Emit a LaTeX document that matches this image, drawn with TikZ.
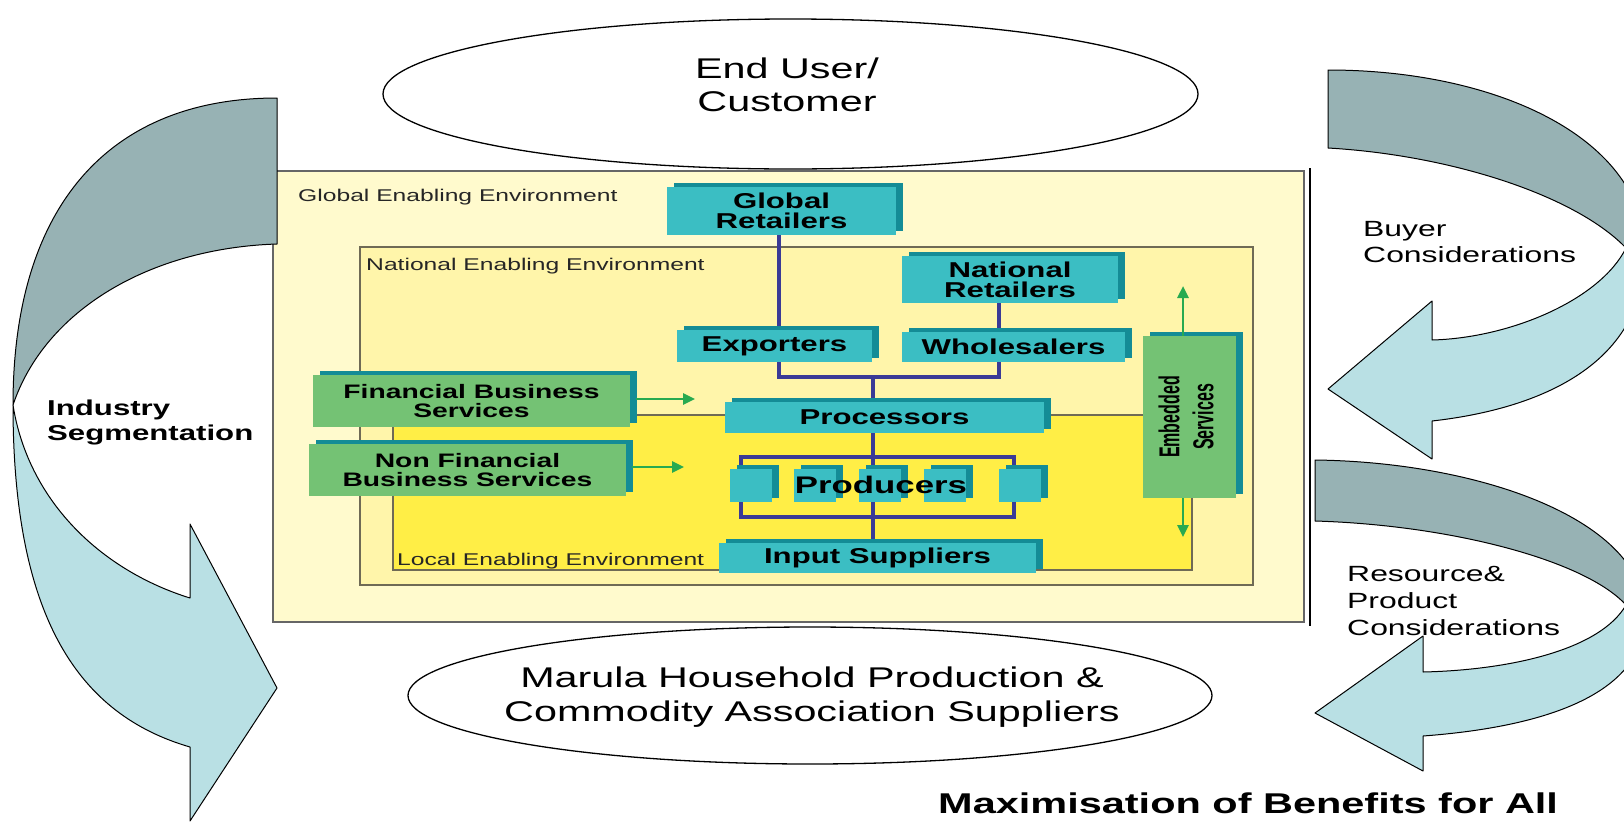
\documentclass[tikz,border=0pt]{standalone}
\usepackage{fontspec}
\usepackage{graphicx}
\setmainfont{Liberation Sans}[FakeStretch=1.45]
\newfontfamily\rotfont{Liberation Sans}
\usetikzlibrary{shadows,arrows.meta,shapes.geometric}
\pgfdeclarelayer{framelayer}
\pgfdeclarelayer{connlayer}
\pgfsetlayers{framelayer,connlayer,main}
\newcommand\myfs[2]{\fontsize{#1}{#2}\selectfont}
\definecolor{outerY}{HTML}{FFFACD}
\definecolor{natY}{HTML}{FFF5AA}
\definecolor{locY}{HTML}{FFEE46}
\definecolor{frameC}{HTML}{6F6A55}
\definecolor{tealF}{HTML}{3BBEC3}
\definecolor{tealD}{HTML}{148C96}
\definecolor{greenF}{HTML}{74C274}
\definecolor{blueC}{HTML}{3A3A96}
\definecolor{arrowG}{HTML}{28AA50}
\definecolor{bandD}{HTML}{97B2B4}
\definecolor{bandL}{HTML}{B9E0E4}
\begin{document}
\begin{tikzpicture}[x=1pt,y=-1pt,
  tealbox/.style={fill=tealF, draw=none, inner sep=0pt, align=center,
    font=\bfseries\myfs{21.5}{20},
    copy shadow={shadow xshift=7pt, shadow yshift=4pt, fill=tealD, draw=none}},
  greenbox/.style={tealbox, fill=greenF, font=\bfseries\myfs{19.5}{19}},
  smallbox/.style={tealbox, minimum width=42pt, minimum height=33pt},
  blueline/.style={draw=blueC, line width=3.2pt},
  garrow/.style={draw=arrowG, line width=2.6pt, -{Triangle[length=12pt,width=11pt]}},
  envlab/.style={font=\myfs{17}{20}, text=black!85, inner sep=0pt, anchor=base west},
  ell/.style={ellipse, draw=black, line width=1.3pt, fill=white, inner sep=0pt},
  band/.style={draw=black, line width=1pt, line join=round},
  sidetext/.style={inner sep=0pt, align=left, anchor=west}
]
\useasboundingbox (0,0) rectangle (1624,825);

% ---------- frame ----------
\begin{pgfonlayer}{framelayer}
\fill[white] (0,0) rectangle (1624,825);
\draw[fill=outerY, draw=black!60, line width=1.5pt] (273,171) rectangle (1304,622);
\draw[black, line width=2.2pt] (1310,168) -- (1310,626);
\draw[fill=natY, draw=frameC, line width=1.3pt] (360,247) rectangle (1253,585);
\draw[fill=locY, draw=frameC, line width=1.3pt] (393,415) rectangle (1192,570);
\end{pgfonlayer}

\node[envlab] (glab) at (298,201) {Global Enabling Environment};
\node[envlab] (nlab) at (366,270) {National Enabling Environment};
\node[envlab] (llab) at (397,565) {Local Enabling Environment};

% ---------- ellipses ----------
\node[ell, minimum width=815pt, minimum height=150pt] (endu) at (790.5,94) {};
\node[inner sep=0pt, align=center, font=\myfs{28.5}{33}] (endutxt) at (787,85) {End User/\\Customer};
\node[ell, minimum width=804pt, minimum height=137pt] (marula) at (810,695.5) {};
\node[inner sep=0pt, align=center, font=\myfs{28.5}{34}] (marulatxt) at (812,697.5)
  {Marula Household Production \&\\Commodity Association Suppliers};

% ---------- chain boxes ----------
\node[tealbox, minimum width=229pt, minimum height=48pt] (gr) at (781.5,211) {Global\\Retailers};
\node[tealbox, minimum width=216pt, minimum height=47pt] (nr) at (1010,279.5) {National\\Retailers};
\node[tealbox, minimum width=195pt, minimum height=32pt] (exp) at (774.5,346) {Exporters};
\node[tealbox, minimum width=223pt, minimum height=30pt] (whl) at (1013.5,346.5) {Wholesalers};
\node[tealbox, minimum width=319pt, minimum height=31pt] (proc) at (884.5,417.5) {Processors};
\node[tealbox, minimum width=317pt, minimum height=30pt] (inp) at (877.5,558) {Input Suppliers};

\node[smallbox] (p1) at (751,485.5) {};
\node[smallbox] (p2) at (815,485.5) {};
\node[smallbox] (p3) at (880,485.5) {};
\node[smallbox] (p4) at (945,485.5) {};
\node[smallbox] (p5) at (1020,485.5) {};
\node[inner sep=0pt, font=\bfseries\myfs{24}{24}] (prodtxt) at (881,485) {Producers};

\node[greenbox, minimum width=317pt, minimum height=52pt] (fin) at (471.5,401) {Financial Business\\Services};
\node[greenbox, minimum width=317pt, minimum height=52pt] (nfin) at (467.5,470) {Non Financial\\Business Services};
\node[greenbox, minimum width=93pt, minimum height=162pt] (emb) at (1189.5,417) {};
\node[rotate=90, inner sep=0pt, font=\rotfont\bfseries\myfs{16}{19}] (embtxt) at (emb.center)
  {\scalebox{1}[1.8]{\begin{tabular}{@{}c@{}}Embedded\\Services\end{tabular}}};

% ---------- connectors ----------
\coordinate (jl) at (779,377);
\coordinate (jr) at (999,377);
\coordinate (jc) at (873,377);
\begin{pgfonlayer}{connlayer}
\draw[blueline] (gr.south -| jl) -- (jl |- exp.north);
\draw[blueline] (exp.south -| jl) -- (jl) -- (jr) -- (jr |- whl.south);
\draw[blueline] (nr.south -| jr) -- (jr |- whl.north);
\draw[blueline] (jc) -- (jc |- proc.north);
\draw[blueline] (proc.south -| jc) -- (jc |- inp.north);
\node[draw=blueC, line width=3.2pt, inner sep=0pt, minimum width=273pt, minimum height=60pt] (bracket) at (877.5,487) {};
\end{pgfonlayer}

\coordinate (fa) at (695,399);
\coordinate (nfa) at (684,467);
\coordinate (eu) at (1183,286);
\coordinate (ed) at (1183,537);
\draw[garrow] (fin.east |- fa) ++(6,0) -- (fa);
\draw[garrow] (nfin.east |- nfa) ++(6,0) -- (nfa);
\draw[garrow] (emb.north -| eu) -- (eu);
\draw[garrow] (emb.south -| ed) -- (ed);

% ---------- big curved arrows ----------
\begin{scope}
\clip (0,0) rectangle (1624,825);
% left: industry segmentation
\filldraw[band, fill=bandD] (277,98) .. controls (110,98) and (13,205) .. (13,405)
   .. controls (45,310) and (150,248) .. (277,244) -- cycle;
\filldraw[band, fill=bandL] (13,405) .. controls (13,620) and (80,715) .. (190,747)
   -- (190,821) -- (277,688) -- (190,524) -- (190,598)
   .. controls (100,570) and (28,500) .. (13,405) -- cycle;
% right top: buyer considerations
\filldraw[band, fill=bandD] (1328,70) .. controls (1500,70) and (1645,140) .. (1645,252)
   -- (1626,248) .. controls (1575,195) and (1450,155) .. (1328,148) -- cycle;
\filldraw[band, fill=bandL] (1645,252) .. controls (1645,370) and (1530,410) .. (1432,421)
   -- (1432,459) -- (1328,389) -- (1432,301) -- (1432,340)
   .. controls (1510,338) and (1600,300) .. (1626,248) -- cycle;
% right bottom: resource & product considerations
\filldraw[band, fill=bandD] (1315,460) .. controls (1480,462) and (1645,520) .. (1645,615)
   -- (1626,605) .. controls (1585,560) and (1450,525) .. (1315,521) -- cycle;
\filldraw[band, fill=bandL] (1645,615) .. controls (1645,700) and (1530,728) .. (1423,736)
   -- (1423,771) -- (1315,713) -- (1423,636) -- (1423,672)
   .. controls (1510,670) and (1600,650) .. (1626,605) -- cycle;
\end{scope}

% ---------- side texts ----------
\node[sidetext, font=\bfseries\myfs{21.5}{25}] (indseg) at (47,422) {Industry\\Segmentation};
\node[sidetext, font=\myfs{22}{26}] (buyer) at (1363,242) {Buyer\\Considerations};
\node[sidetext, font=\myfs{22}{27}] (resprod) at (1347,601) {Resource\&\\Product\\Considerations};
\node[inner sep=0pt, anchor=base west, font=\bfseries\myfs{28.6}{30}] (maxben) at (938,813)
  {Maximisation of Benefits for All};
\end{tikzpicture}
\end{document}
